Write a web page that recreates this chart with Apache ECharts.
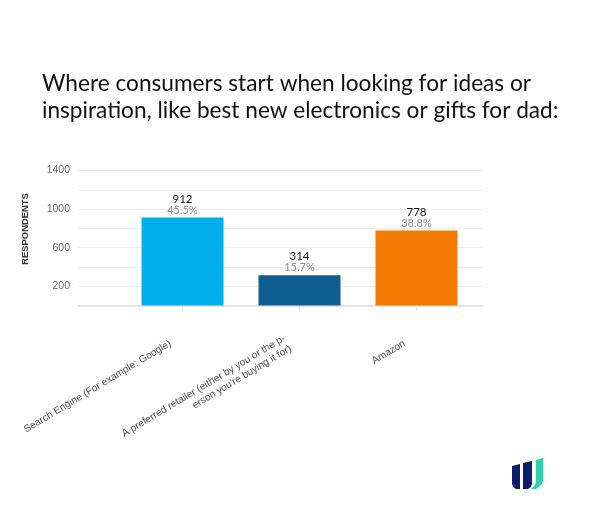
<!DOCTYPE html>
<html>
<head>
<meta charset="utf-8">
<style>
html, body { margin: 0; padding: 0; background: #fff; }
#chart { width: 600px; height: 523px; }
</style>
<script src="https://cdn.jsdelivr.net/npm/echarts@6/dist/echarts.min.js"></script>
</head>
<body>
<div id="chart"></div>
<script>
let titleText = 'Where consumers start when looking for ideas or\ninspiration, like best new electronics or gifts for dad:';
let categories = [
    'Search Engine (For example: Google)',
    'A preferred retailer (either by you or the p-\nerson you\'re buying it for)',
    'Amazon'
];
let respondents = [912, 314, 778];
let percents = ['45.5%', '15.7%', '38.8%'];
let barColors = ['#00adef', '#105d92', '#f27a00'];
let yTickLabels = [200, 600, 1000, 1400];

let myChart = echarts.init(document.getElementById('chart'), null, {renderer: 'canvas'});

let barData = respondents.map(function (value, i) {
    return {value: value, itemStyle: {color: barColors[i]}, label: {formatter: '{v|' + value + '}\n{p|' + percents[i] + '}'}};
});

let option = {
    animation: false,
    backgroundColor: '#fff',
    title: {
        text: titleText,
        left: 37,
        top: 65,
        textStyle: {fontFamily: 'Lato', fontSize: 22.65, fontWeight: 'normal', color: '#111', lineHeight: 27}
    },
    // the gridlines run wider than the bars, so the bars get their own grid
    grid: [
        {left: 78, right: 117, top: 170.5, height: 135},
        {left: 124, width: 351, top: 170.5, height: 135}
    ],
    xAxis: [
        {
            gridIndex: 0,
            type: 'category',
            data: [],
            axisLine: {lineStyle: {color: '#dedede', width: 1.5}},
            axisTick: {show: false},
            axisLabel: {show: false}
        },
        {
            gridIndex: 1,
            type: 'category',
            data: categories,
            axisLine: {show: false},
            axisTick: {show: true, alignWithLabel: true, length: 5, lineStyle: {color: '#e6e6e6'}},
            axisLabel: {
                interval: 0,
                rotate: 31,
                margin: 30,
                align: 'right',
                padding: [0, 14, 0, 0],
                hideOverlap: false,
                fontFamily: 'Liberation Sans',
                fontSize: 10.1,
                lineHeight: 12,
                color: '#4d4d4d'
            }
        }
    ],
    yAxis: [
        {
            gridIndex: 0,
            type: 'value',
            min: 0,
            max: 1400,
            interval: 200,
            name: 'RESPONDENTS',
            nameLocation: 'middle',
            nameGap: 48,
            nameTextStyle: {fontFamily: 'Liberation Sans', fontSize: 9.4, fontWeight: 'bold', color: '#333', padding: [0, 0, 0, 18]},
            axisLine: {show: false},
            axisTick: {show: false},
            splitLine: {lineStyle: {color: '#efefef'}},
            axisLabel: {
                customValues: yTickLabels,
                formatter: function (value) {
                    return String(value);
                },
                margin: 8,
                padding: [2, 0, 0, 0],
                fontFamily: 'Liberation Sans',
                fontSize: 10.5,
                color: '#666'
            }
        },
        {
            gridIndex: 1,
            type: 'value',
            min: 0,
            max: 1400,
            show: false
        }
    ],
    series: [{
        type: 'bar',
        xAxisIndex: 1,
        yAxisIndex: 1,
        barWidth: 82,
        data: barData,
        label: {
            show: true,
            position: 'top',
            distance: 2,
            rich: {
                v: {fontFamily: 'Lato', fontSize: 11.5, color: '#111', lineHeight: 11},
                p: {fontFamily: 'Lato', fontSize: 11, color: '#8c8c8c', lineHeight: 11}
            }
        }
    }],
    graphic: [
        {type: 'polygon', shape: {points: [[512, 466], [520, 464], [520, 489], [516, 489], [513, 487], [512, 484]]}, style: {fill: '#0b1f6b'}},
        {type: 'polygon', shape: {points: [[523, 463], [532, 461], [532, 484], [531, 487], [528, 489], [523, 489]]}, style: {fill: '#0b1f6b'}},
        {type: 'polygon', shape: {points: [[536, 460], [543, 458], [543, 481], [541, 485], [536, 489], [531, 489], [535, 485], [536, 482]]}, style: {fill: '#2bd4a8'}}
    ]
};

myChart.setOption(option);
</script>
</body>
</html>
